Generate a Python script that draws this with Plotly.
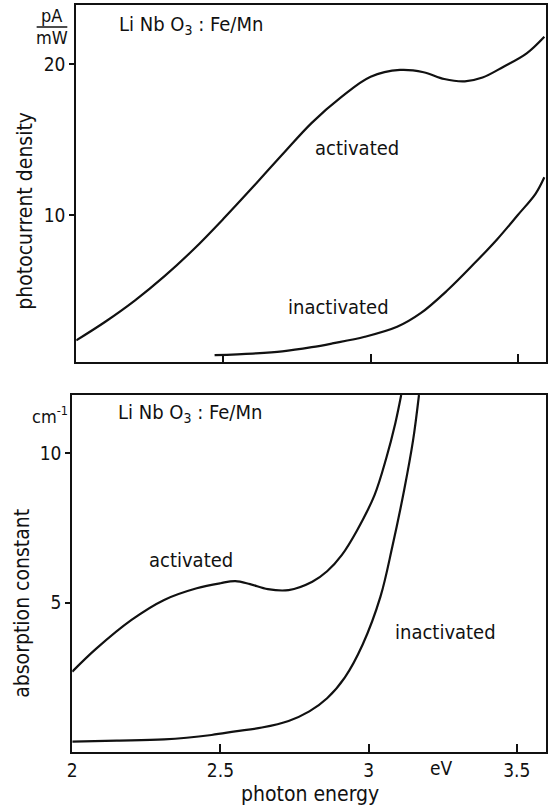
import plotly.graph_objects as go

# --- photocurrent density (pA/mW) vs photon energy (eV) ---
pc_act_e = [2.00, 2.10, 2.20, 2.30, 2.40, 2.50, 2.60, 2.70, 2.80, 2.90, 3.00,
            3.10, 3.18, 3.25, 3.32, 3.38, 3.45, 3.53, 3.59]
pc_act_v = [1.7, 2.95, 4.35, 5.95, 7.75, 9.75, 11.85, 14.0, 16.1, 17.8, 19.15,
            19.6, 19.45, 19.0, 18.85, 19.1, 19.8, 20.7, 21.8]

pc_inact_e = [2.47, 2.60, 2.70, 2.80, 2.87, 2.98, 3.09, 3.17, 3.26, 3.35,
              3.43, 3.50, 3.56, 3.59]
pc_inact_v = [0.72, 0.83, 0.97, 1.25, 1.5, 1.94, 2.6, 3.5, 5.0, 6.75,
              8.4, 10.0, 11.4, 12.5]

# --- absorption constant (cm^-1) vs photon energy (eV) ---
ab_act_e = [2.00, 2.08, 2.20, 2.31, 2.42, 2.50, 2.55, 2.60, 2.66, 2.73,
            2.81, 2.86, 2.91, 2.96, 3.02, 3.06, 3.09, 3.11]
ab_act_v = [2.69, 3.45, 4.42, 5.09, 5.48, 5.65, 5.72, 5.62, 5.45, 5.42,
            5.7, 6.05, 6.6, 7.4, 8.6, 9.85, 11.0, 11.95]

ab_inact_e = [2.00, 2.15, 2.31, 2.47, 2.55, 2.64, 2.73, 2.80, 2.86, 2.92,
              2.98, 3.04, 3.08, 3.12, 3.15, 3.17]
ab_inact_v = [0.35, 0.38, 0.42, 0.57, 0.69, 0.82, 1.04, 1.36, 1.8, 2.5,
              3.6, 5.2, 6.87, 8.77, 10.43, 11.95]

x_ticks = [2, 2.5, 3, 3.5]
x_tick_text = ["2", "2.5", "3", "3.5"]
pc_ticks = [10, 20]
ab_ticks = [5, 10]

W, H = 548, 806
FONT = "DejaVu Sans Condensed, Liberation Sans Narrow, DejaVu Sans, sans-serif"
INK = "#111111"


def px(x):
    return x / W


def py(y):
    return 1 - y / H


line_style = dict(color=INK, width=2.2, shape="spline", smoothing=1.0)

fig = go.Figure()
fig.add_trace(go.Scatter(x=pc_act_e, y=pc_act_v, mode="lines", line=line_style,
                         xaxis="x", yaxis="y", showlegend=False))
fig.add_trace(go.Scatter(x=pc_inact_e, y=pc_inact_v, mode="lines", line=line_style,
                         xaxis="x", yaxis="y", showlegend=False))
fig.add_trace(go.Scatter(x=ab_act_e, y=ab_act_v, mode="lines", line=line_style,
                         xaxis="x2", yaxis="y2", showlegend=False))
fig.add_trace(go.Scatter(x=ab_inact_e, y=ab_inact_v, mode="lines", line=line_style,
                         xaxis="x2", yaxis="y2", showlegend=False))

axis_common = dict(showline=True, linecolor=INK, linewidth=2, mirror=True,
                   showgrid=False, zeroline=False, tickcolor=INK, tickwidth=2,
                   tickfont=dict(family=FONT, size=19, color=INK))

fig.update_layout(
    width=W, height=H,
    margin=dict(l=0, r=0, t=0, b=0),
    paper_bgcolor="white", plot_bgcolor="white",
    font=dict(family=FONT, color=INK),
    xaxis=dict(domain=[px(72), px(546.5)], range=[2.0, 3.594], anchor="y",
               tickvals=[2.5, 3, 3.5], showticklabels=False,
               ticks="inside", ticklen=8, **axis_common),
    yaxis=dict(domain=[py(362), py(5)], range=[0.27, 23.9], anchor="x",
               tickvals=pc_ticks, ticks="outside", ticklen=5, **axis_common),
    xaxis2=dict(domain=[px(68), px(546.5)], range=[2.0, 3.597], anchor="y2",
                tickvals=x_ticks, ticktext=x_tick_text,
                ticks="inside", ticklen=8, **axis_common),
    yaxis2=dict(domain=[py(752), py(395)], range=[0.0, 11.95], anchor="x2",
                tickvals=ab_ticks, ticks="outside", ticklen=5, **axis_common),
)

txt = dict(family=FONT, size=20, color=INK)
title_font = dict(family=FONT, size=21, color=INK)
unit_font = dict(family=FONT, size=18, color=INK)
notes = [
    ("Li Nb O<sub>3</sub> : Fe/Mn", 188, 25, 0, txt),
    ("Li Nb O<sub>3</sub> : Fe/Mn", 187, 413, 0, txt),
    ("activated", 356, 148, 0, txt),
    ("inactivated", 337, 307, 0, txt),
    ("activated", 188, 560, 0, txt),
    ("inactivated", 445, 632, 0, txt),
    ("eV", 441, 768, 0, dict(family=FONT, size=19, color=INK)),
    ("photon energy", 308, 794, 0, title_font),
    ("photocurrent density", 20, 211, -90, title_font),
    ("absorption constant", 17, 603, -90, title_font),
    ("pA", 47, 16, 0, unit_font),
    ("mW", 48, 37, 0, unit_font),
    ("cm<sup>-1</sup>", 46, 415, 0, unit_font),
]
for text, x, y, ang, f in notes:
    fig.add_annotation(text=text, x=px(x), y=py(y), xref="paper", yref="paper",
                       xanchor="center", yanchor="middle", showarrow=False,
                       textangle=ang, font=f)

# fraction bar of the pA/mW unit
fig.add_shape(type="line", xref="paper", yref="paper",
              x0=px(32), x1=px(63), y0=py(27), y1=py(27),
              line=dict(color=INK, width=1.5))

fig.write_html("out.html")
